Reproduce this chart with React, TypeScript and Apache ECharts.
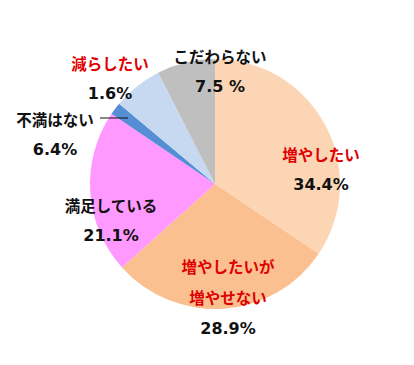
import React, { useEffect, useRef } from "react";
import * as echarts from "echarts";

const categories = ["増やしたい", "増やしたいが\n増やせない", "満足している", "不満はない", "減らしたい", "こだわらない"];
const values = [34.4, 28.9, 21.1, 1.6, 6.4, 7.5];
const percentLabels = ["34.4%", "28.9%", "21.1%", "6.4%", "1.6%", "7.5 %"];
const redNames = [true, true, false, false, true, false];
const colors = ["#FCD5B5", "#FAC090", "#FF99FF", "#558ED5", "#C6D9F1", "#BFBFBF"];
const labelCenters: [number, number][] = [
  [321, 169],
  [228, 297],
  [111, 220],
  [55, 134],
  [110, 78],
  [220, 71],
];

export default function App() {
  const ref = useRef<HTMLDivElement>(null);
  useEffect(() => {
    if (!ref.current) return;
    const chart = echarts.init(ref.current, undefined, { renderer: "svg" });
    const jp = '"Noto Sans CJK JP", "Noto Sans", sans-serif';
    const num = '"DejaVu Sans", Verdana, sans-serif';
    chart.setOption({
      animation: false,
      backgroundColor: "#ffffff",
      series: [
        {
          type: "pie",
          center: [215, 184],
          radius: 125,
          startAngle: 90,
          clockwise: true,
          silent: true,
          itemStyle: { borderWidth: 0 },
          labelLine: { show: false },
          data: categories.map((c, i) => ({
            name: c,
            value: values[i],
            itemStyle: { color: colors[i] },
          })),
          label: {
            show: true,
            position: "inside",
            formatter: (p: any) => {
              const i = p.dataIndex;
              const tag = redNames[i] ? "r" : "k";
              const lines = categories[i].split("\n").map((s) => `{${tag}|${s}}`);
              return lines.join("\n") + `\n{p|${percentLabels[i]}}`;
            },
            rich: {
              r: { color: "#E00000", fontSize: 15.5, fontWeight: "bold", fontFamily: jp, lineHeight: 31 },
              k: { color: "#111111", fontSize: 15.5, fontWeight: "bold", fontFamily: jp, lineHeight: 31 },
              p: { color: "#111111", fontSize: 16, fontWeight: "bold", fontFamily: num, lineHeight: 31 },
            },
          },
          labelLayout: (params: any) => {
            const c = labelCenters[params.dataIndex];
            return { x: c[0], y: c[1], align: "center", verticalAlign: "middle" };
          },
        },
      ],
      graphic: [
        {
          type: "line",
          z: 100,
          zlevel: 0,
          shape: { x1: 100, y1: 118, x2: 128, y2: 118 },
          style: { stroke: "#111111", lineWidth: 1 },
        },
      ],
    });
    return () => chart.dispose();
  }, []);
  return (
    <div
      ref={ref}
      style={{ position: "absolute", left: 0, top: 0, width: 414, height: 365 }}
    />
  );
}
